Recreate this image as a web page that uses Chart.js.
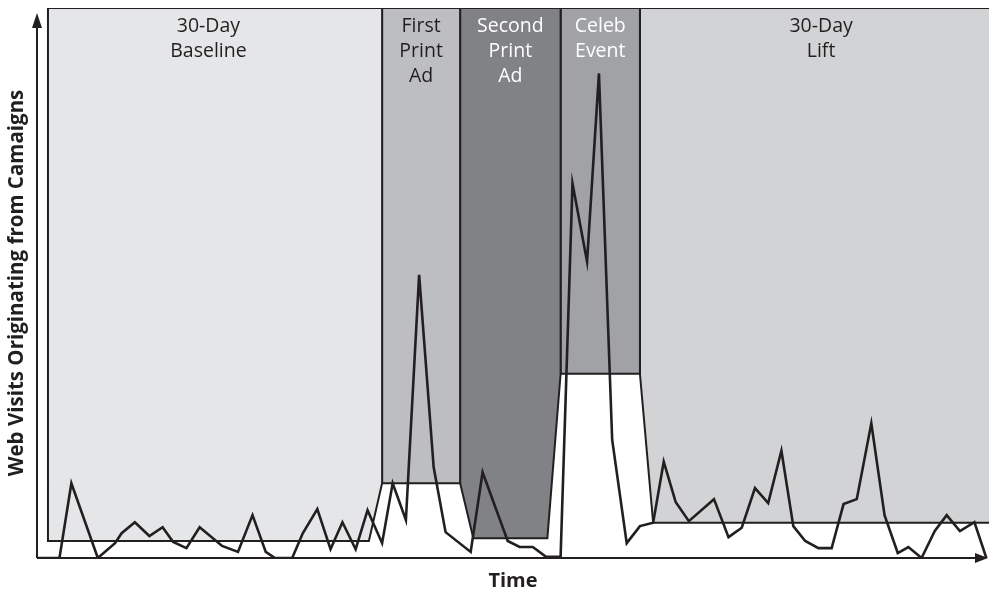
<!DOCTYPE html>
<html>
<head>
<meta charset="utf-8">
<script src="https://cdn.jsdelivr.net/npm/chart.js@4.4.1/dist/chart.umd.min.js"></script>
<style>
  html, body { margin: 0; padding: 0; background: #ffffff; }
  #wrap { width: 989px; height: 591px; position: relative; }
</style>
</head>
<body>
<div id="wrap"><canvas id="c"></canvas></div>
<script>
// ---- Data (days on x, visits on an arbitrary 0-100 scale) ----
const visitDays = [0, 1.7, 2.6, 4.6, 5.9, 6.4, 7.4, 8.5, 9.5, 10.3,
  11.3, 12.3, 14.0, 15.2, 16.3, 17.3, 18.0, 19.3, 20.1, 21.2,
  22.2, 23.1, 24.1, 25.0, 26.1, 26.9, 27.9, 28.9, 30.0, 30.9,
  32.8, 33.7, 35.6, 36.5, 37.5, 38.5, 39.6, 40.5, 41.6, 42.5,
  43.5, 44.6, 45.6, 46.6, 47.4, 48.3, 49.3, 51.2, 52.3, 53.3,
  54.3, 55.3, 56.3, 57.2, 58.1, 59.1, 60.1, 61.0, 62.0, 63.1,
  64.1, 65.1, 65.9, 66.9, 67.9, 68.8, 69.8, 70.9, 71.8];
const visitValues = [0, 0, 13.6, 0, 2.7, 4.5, 6.5, 4.0, 5.6, 2.9,
  1.8, 5.6, 2.2, 1.1, 7.8, 1.1, 0, 0, 4.5, 8.9,
  1.6, 6.5, 1.6, 8.7, 2.7, 13.6, 6.9, 51.5, 16.5, 4.7,
  1.1, 15.6, 3.1, 2.0, 2.0, 0.2, 0.2, 68.1, 53.9, 88.1,
  21.5, 2.7, 5.8, 6.4, 17.5, 10.2, 6.7, 10.7, 3.8, 5.5,
  12.7, 10.0, 19.5, 5.8, 3.1, 1.8, 1.8, 9.8, 10.7, 24.5,
  7.8, 0.9, 2.0, 0, 4.9, 7.8, 4.9, 6.5, 0];

const periodLabels = [["30-Day", "Baseline"], ["First", "Print", "Ad"], ["Second", "Print", "Ad"], ["Celeb", "Event"], ["30-Day", "Lift"]];
const periodStart = [0.83, 26.1, 32.0, 39.6, 45.6];
const periodEnd = [26.1, 32.0, 39.6, 45.6, 73];
const periodFloor = [3.1, 13.6, 3.6, 33.5, 6.4];
const periodColors = ["#e5e6e7", "#bdbec1", "#808285", "#a0a2a5", "#d1d3d4"];
const periodTextColors = ["#231f20", "#231f20", "#ffffff", "#ffffff", "#231f20"];

const X_MAX = 72;
const Y_MAX = 100;
const RAMP = 1;           // transition width between floor levels (days)
const INK = "#231f20";

// ---- Build shaded period shapes from the arrays ----
function periodShape(i) {
  const n = periodStart.length;
  const s = periodStart[i], e = periodEnd[i], f = periodFloor[i];
  const pts = [{ x: s, y: Y_MAX }];
  let flatStart = s, flatEnd = e;
  if (i > 0 && periodFloor[i - 1] > f) {
    pts.push({ x: s, y: periodFloor[i - 1] });
    pts.push({ x: s + RAMP, y: f });
    flatStart = s + RAMP;
  } else {
    pts.push({ x: s, y: f });
  }
  if (i < n - 1 && periodFloor[i + 1] > f) {
    pts.push({ x: e - RAMP, y: f });
    pts.push({ x: e, y: periodFloor[i + 1] });
    flatEnd = e - RAMP;
  } else {
    pts.push({ x: e, y: f });
  }
  pts.push({ x: e, y: Y_MAX });
  return { pts, flatStart, flatEnd };
}

const shapes = periodStart.map((_, i) => periodShape(i));

const datasets = [];
datasets.push({
  label: "Web visits",
  data: visitDays.map((d, i) => ({ x: d, y: visitValues[i] })),
  borderColor: INK, borderWidth: 2.6, pointRadius: 0, fill: false,
  tension: 0, order: 0, borderJoinStyle: "miter"
});
datasets.push({
  label: "frame",
  data: [{ x: periodStart[0], y: Y_MAX }, { x: periodEnd[periodEnd.length - 1], y: Y_MAX }],
  borderColor: INK, borderWidth: 2, pointRadius: 0, fill: false, order: 0
});
shapes.forEach((sh, i) => {
  datasets.push({
    label: periodLabels[i].join(" "),
    data: sh.pts,
    borderColor: INK, borderWidth: 2, pointRadius: 0,
    backgroundColor: periodColors[i], fill: "end", tension: 0, order: 1
  });
});

const decor = {
  id: "decor",
  afterDatasetsDraw(chart) {
    const { ctx, chartArea, scales } = chart;
    const xs = scales.x, ys = scales.y;
    // period labels
    ctx.save();
    ctx.font = "19.5px 'Open Sans'";
    ctx.textAlign = "center";
    ctx.textBaseline = "alphabetic";
    shapes.forEach((sh, i) => {
      const cx = (xs.getPixelForValue(sh.flatStart) + xs.getPixelForValue(Math.min(sh.flatEnd, X_MAX))) / 2;
      ctx.fillStyle = periodTextColors[i];
      periodLabels[i].forEach((t, k) => ctx.fillText(t, cx, chartArea.top + 24 + k * 25));
    });
    ctx.restore();
    // axes with arrows
    const x0 = xs.getPixelForValue(0);
    const y0 = ys.getPixelForValue(0);
    ctx.save();
    ctx.strokeStyle = INK; ctx.fillStyle = INK; ctx.lineWidth = 2;
    ctx.beginPath();
    ctx.moveTo(x0, y0); ctx.lineTo(chartArea.right - 6, y0);
    ctx.moveTo(x0, y0); ctx.lineTo(x0, chartArea.top + 12);
    ctx.stroke();
    // y arrow
    ctx.beginPath();
    ctx.moveTo(x0, chartArea.top + 5);
    ctx.lineTo(x0 - 5, chartArea.top + 20);
    ctx.lineTo(x0 + 5, chartArea.top + 20);
    ctx.closePath(); ctx.fill();
    // x arrow
    ctx.beginPath();
    ctx.moveTo(chartArea.right - 1, y0);
    ctx.lineTo(chartArea.right - 14, y0 - 5);
    ctx.lineTo(chartArea.right - 14, y0 + 5);
    ctx.closePath(); ctx.fill();
    ctx.restore();
  }
};

new Chart(document.getElementById("c"), {
  type: "line",
  data: { datasets },
  options: {
    responsive: true, maintainAspectRatio: false, animation: false,
    layout: { padding: { top: 8, right: 0, bottom: 0, left: 0 } },
    plugins: { legend: { display: false }, tooltip: { enabled: false } },
    scales: {
      x: {
        type: "linear", min: 0, max: X_MAX,
        grid: { display: false, drawTicks: false },
        border: { display: false },
        ticks: { display: false },
        title: { display: true, text: "Time", color: INK,
          font: { family: "'Open Sans'", size: 20, weight: "bold", lineHeight: 1 },
          padding: { top: 13, bottom: 0 } }
      },
      y: {
        type: "linear", min: 0, max: Y_MAX,
        grid: { display: false, drawTicks: false },
        border: { display: false },
        ticks: { display: false },
        title: { display: true, text: "Web Visits Originating from Camaigns", color: INK,
          font: { family: "'Open Sans'", size: 20.5, weight: "bold", lineHeight: 1 },
          padding: { top: 7, bottom: 9.5 } }
      }
    }
  },
  plugins: [decor]
});
</script>
</body>
</html>
